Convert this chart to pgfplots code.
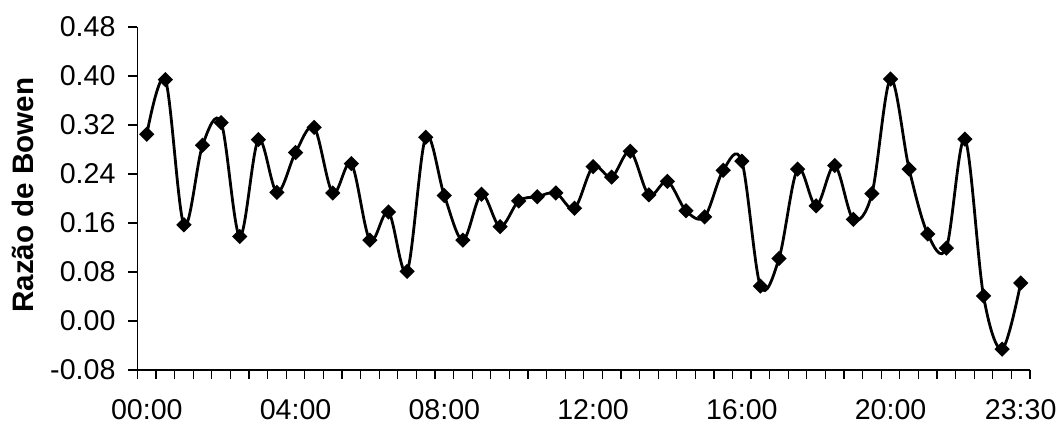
\documentclass[border=0pt]{standalone}
\usepackage{pgfplots}
\pgfplotsset{compat=1.18}
\usepackage{fontspec}
\setmainfont{Liberation Sans}
\begin{document}
\begin{tikzpicture}
\path[use as bounding box] (-68.75pt,-27.5pt) rectangle (461.75pt,185pt);
\begin{axis}[
  at={(0pt,0pt)}, anchor=south west,
  scale only axis, width=446.25pt, height=171.5pt,
  xmin=-0.5, xmax=47.5, ymin=-0.08, ymax=0.48,
  axis lines=left, axis line style={-, line width=0.6pt},
  tick align=outside, major tick length=4.5pt,
  tick style={black, line width=0.6pt},
  ytick={-0.08,0,0.08,0.16,0.24,0.32,0.40,0.48},
  yticklabel style={/pgf/number format/fixed, /pgf/number format/fixed zerofill, /pgf/number format/precision=2, /pgf/number format/assume math mode=true, font=\fontsize{14.3}{16}\selectfont, xshift=-3pt},
  xtick={-0.5,0.5,...,47.5}, xticklabels={},
  extra x ticks={0,8,16,24,32,40,47},
  extra x tick labels={00:00,04:00,08:00,12:00,16:00,20:00,23:30},
  extra x tick style={tick style={draw=none}, tick label style={font=\fontsize{14.3}{16}\selectfont, yshift=-6.5pt}},
  ylabel={\bfseries Razão de Bowen},
  every axis y label/.style={at={(axis description cs:-0.128,0.51)}, rotate=90, anchor=center, font=\fontsize{14.8}{16}\selectfont},
  clip=false,
]
\addplot[black, line width=1.4pt, smooth, tension=0.55, mark=square*, mark size=2pt, mark options={rotate=45, solid, fill=black}]
coordinates {
(0,0.305) (1,0.394) (2,0.157) (3,0.287) (4,0.324) (5,0.138) (6,0.296) (7,0.210)
(8,0.275) (9,0.316) (10,0.209) (11,0.257) (12,0.132) (13,0.178) (14,0.081) (15,0.300)
(16,0.205) (17,0.132) (18,0.207) (19,0.154) (20,0.196) (21,0.203) (22,0.209) (23,0.184)
(24,0.252) (25,0.235) (26,0.277) (27,0.206) (28,0.228) (29,0.180) (30,0.170) (31,0.246)
(32,0.261) (33,0.057) (34,0.102) (35,0.248) (36,0.188) (37,0.254) (38,0.166) (39,0.208)
(40,0.395) (41,0.248) (42,0.142) (43,0.119) (44,0.297) (45,0.041) (46,-0.046) (47,0.062)
};
\end{axis}
\end{tikzpicture}
\end{document}
